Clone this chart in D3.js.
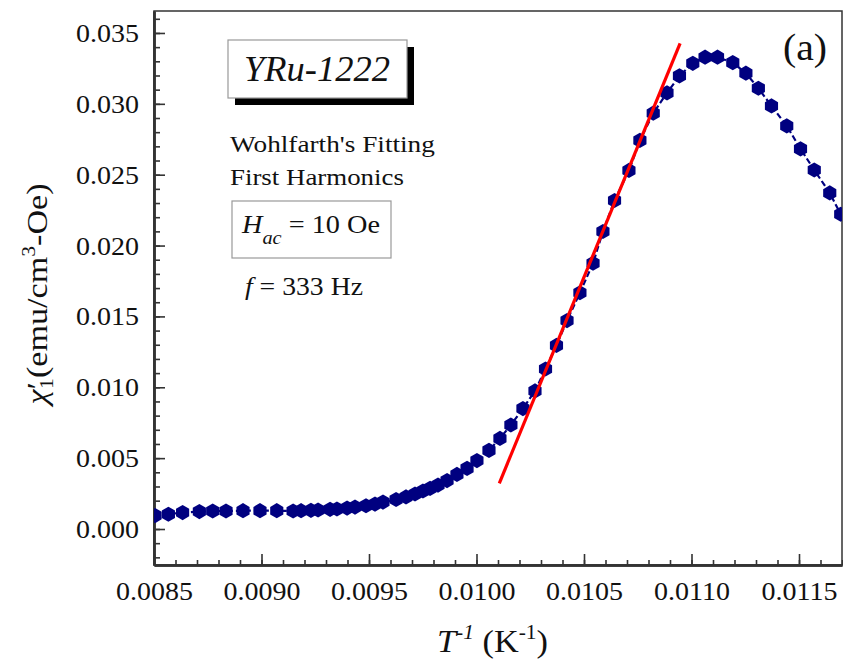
<!DOCTYPE html>
<html><head><meta charset="utf-8">
<script src="https://cdn.jsdelivr.net/npm/d3@7"></script>
<style>
body{margin:0;background:#fff}
svg{display:block}
text{font-family:"Liberation Serif","Times New Roman",serif;fill:#111}
</style>
</head><body>
<svg id="chart" width="843" height="666"></svg>
<script>
// ---- data ----
const invT = [0.008505,0.008567,0.008633,0.008711,0.008773,0.008835,0.008914,0.008993,0.009071,0.009147,
  0.009184,0.009230,0.009263,0.009319,0.009351,0.009398,0.009435,0.009486,0.009528,0.009565,
  0.009626,0.009672,0.009714,0.009751,0.009784,0.009821,0.009863,0.009909,0.009956,0.010002,
  0.010058,0.010109,0.010160,0.010216,0.010272,0.010321,0.010372,0.010421,0.010481,0.010542,
  0.010588,0.010642,0.010709,0.010760,0.010822,0.010886,0.010944,0.011006,0.011063,0.011121,
  0.011192,0.011253,0.011311,0.011372,0.011443,0.011507,0.011571,0.011643,0.011694];
const chi = [0.00095,0.00104,0.00116,0.00123,0.00127,0.00127,0.00129,0.00129,0.00129,0.00127,
  0.00129,0.00132,0.00134,0.00139,0.00141,0.00148,0.00155,0.00164,0.00176,0.00190,
  0.00208,0.00226,0.00247,0.00268,0.00287,0.00310,0.00342,0.00385,0.00428,0.00483,
  0.00555,0.00639,0.00734,0.00850,0.00974,0.01129,0.01295,0.01471,0.01667,0.01875,
  0.02099,0.02318,0.02530,0.02742,0.02934,0.03077,0.03197,0.03286,0.03329,0.03329,
  0.03291,0.03216,0.03110,0.02985,0.02844,0.02682,0.02533,0.02371,0.02221];
const fitX = [0.010106, 0.010947];
const fitY = [0.003225, 0.03427];
const xTickValues = [0.0085,0.0090,0.0095,0.0100,0.0105,0.0110,0.0115];
const yTickValues = [0.000,0.005,0.010,0.015,0.020,0.025,0.030,0.035];
const xMinorValues = d3.range(85,118).map(v=>v/10000);
const yMinorValues = d3.range(-2,37).map(v=>v/1000);
const xDomain = [0.0085, 0.0117];
const yDomain = [-0.00254, 0.03655];

// ---- layout ----
const W = 843, H = 666;
const m = {left:154, top:11, right:1, bottom:101};
const iw = W - m.left - m.right, ih = H - m.top - m.bottom;
const svg = d3.select('#chart');
const g = svg.append('g').attr('transform',`translate(${m.left},${m.top})`);
const x = d3.scaleLinear().domain(xDomain).range([0, iw]);
const y = d3.scaleLinear().domain(yDomain).range([ih, 0]);

svg.append('defs').append('clipPath').attr('id','clip')
  .append('rect').attr('x',0).attr('y',0).attr('width',iw).attr('height',ih);

// frame
g.append('rect').attr('width',iw).attr('height',ih).attr('fill','none')
  .attr('stroke','#333').attr('stroke-width',1.5);

// axes
const axCol = '#333';
const xMinor = g.append('g').attr('transform',`translate(0,${ih})`)
  .call(d3.axisBottom(x).tickValues(xMinorValues).tickSize(-5).tickSizeOuter(0).tickFormat(''));
const yMinor = g.append('g')
  .call(d3.axisLeft(y).tickValues(yMinorValues).tickSize(-6).tickSizeOuter(0).tickFormat(''));
const xAx = g.append('g').attr('transform',`translate(0,${ih})`)
  .call(d3.axisBottom(x).tickValues(xTickValues).tickSize(-11).tickSizeOuter(0)
    .tickFormat(d3.format('.4f')));
const yAx = g.append('g')
  .call(d3.axisLeft(y).tickValues(yTickValues).tickSize(-11).tickSizeOuter(0)
    .tickFormat(d3.format('.3f')));
[xMinor,yMinor,xAx,yAx].forEach(a=>{
  a.selectAll('line').attr('stroke',axCol).attr('stroke-width',1.6);
  a.select('.domain').attr('stroke',axCol).attr('stroke-width',2.5);
});
const tickS = 1.12;
xAx.selectAll('text').attr('font-size',25).attr('font-family','"Liberation Serif",serif')
  .attr('fill','#111').attr('y',0).attr('dy',0)
  .attr('transform',`translate(0,35) scale(${tickS},1)`);
yAx.selectAll('text').attr('font-size',25).attr('font-family','"Liberation Serif",serif')
  .attr('fill','#111').attr('x',0).attr('dy','0.34em')
  .attr('transform',`translate(-15,0) scale(${tickS},1)`);

// plot content
const pc = g.append('g').attr('clip-path','url(#clip)');
const pts = invT.map((v,i)=>[v, chi[i]]);
pc.append('path').datum(pts)
  .attr('d', d3.line().x(d=>x(d[0])).y(d=>y(d[1])))
  .attr('fill','none').attr('stroke','#000080').attr('stroke-width',2.2)
  .attr('stroke-dasharray','6,3');
const r = 7.6;
const hex = d3.range(6).map(k=>{const a = Math.PI/3*k - Math.PI/2; return [r*Math.cos(a), r*Math.sin(a)];});
const hexPath = 'M' + hex.map(p=>p[0].toFixed(2)+','+p[1].toFixed(2)).join('L') + 'Z';
pc.selectAll('path.pt').data(pts).join('path').attr('class','pt')
  .attr('d', hexPath)
  .attr('transform', d=>`translate(${x(d[0])},${y(d[1])})`)
  .attr('fill','#000080');
pc.append('line')
  .attr('x1',x(fitX[0])).attr('y1',y(fitY[0]))
  .attr('x2',x(fitX[1])).attr('y2',y(fitY[1]))
  .attr('stroke','#ff0000').attr('stroke-width',3.2);

// helper to fit text width
function fitText(sel, tx, ty, targetW, anchor, rot){
  sel.attr('text-anchor', anchor||'start');
  const w0 = sel.node().getComputedTextLength();
  const s = targetW / w0;
  sel.attr('transform', `translate(${tx},${ty})` + (rot?` rotate(${rot})`:'') + ` scale(${s},1)`);
}

// YRu-1222 box
svg.append('rect').attr('x',235).attr('y',47).attr('width',179).attr('height',58).attr('fill','#000');
svg.append('rect').attr('x',228).attr('y',40).attr('width',179).attr('height',58)
  .attr('fill','#fff').attr('stroke','#999').attr('stroke-width',1.2);
const t1 = svg.append('text').attr('font-size',36).attr('font-style','italic').text('YRu-1222');
fitText(t1, 244, 81, 146);

const t2 = svg.append('text').attr('font-size',24).text("Wohlfarth's Fitting");
fitText(t2, 230, 152, 205);
const t3 = svg.append('text').attr('font-size',24).text('First Harmonics');
fitText(t3, 230, 185, 174);

// Hac box
svg.append('rect').attr('x',232).attr('y',201).attr('width',159).attr('height',57)
  .attr('fill','#fff').attr('stroke','#999').attr('stroke-width',1.2);
const t4 = svg.append('text').attr('font-size',25);
t4.append('tspan').attr('font-style','italic').text('H');
t4.append('tspan').attr('font-style','italic').attr('font-size',18).attr('dy',11).text('ac');
t4.append('tspan').attr('dy',-11).text(' = 10 Oe');
fitText(t4, 242, 233, 138);

const t5 = svg.append('text').attr('font-size',25);
t5.append('tspan').attr('font-style','italic').text('f');
t5.append('tspan').text(' = 333 Hz');
fitText(t5, 245, 295, 118);

const t6 = svg.append('text').attr('font-size',38).text('(a)');
fitText(t6, 783, 60, 44);

// x title
const xt = svg.append('text').attr('font-size',32);
xt.append('tspan').attr('font-style','italic').text('T');
xt.append('tspan').attr('font-style','italic').attr('font-size',20).attr('dy',-13).text('-1');
xt.append('tspan').attr('dy',13).text(' (K');
xt.append('tspan').attr('font-size',20).attr('dy',-13).text('-1');
xt.append('tspan').attr('dy',13).text(')');
fitText(xt, 437, 652, 111);

// y title
const yt = svg.append('text').attr('font-size',30);
yt.append('tspan').attr('font-style','italic').text('χ');
yt.append('tspan').text('′');
yt.append('tspan').attr('font-size',19).attr('dy',6).attr('dx',-6).text('1');
yt.append('tspan').attr('dy',-6).text('(emu/cm');
yt.append('tspan').attr('font-size',19).attr('dy',-12).text('3');
yt.append('tspan').attr('dy',12).text('-Oe)');
fitText(yt, 47, 294, 228, 'middle', -90);
</script>
</body></html>
